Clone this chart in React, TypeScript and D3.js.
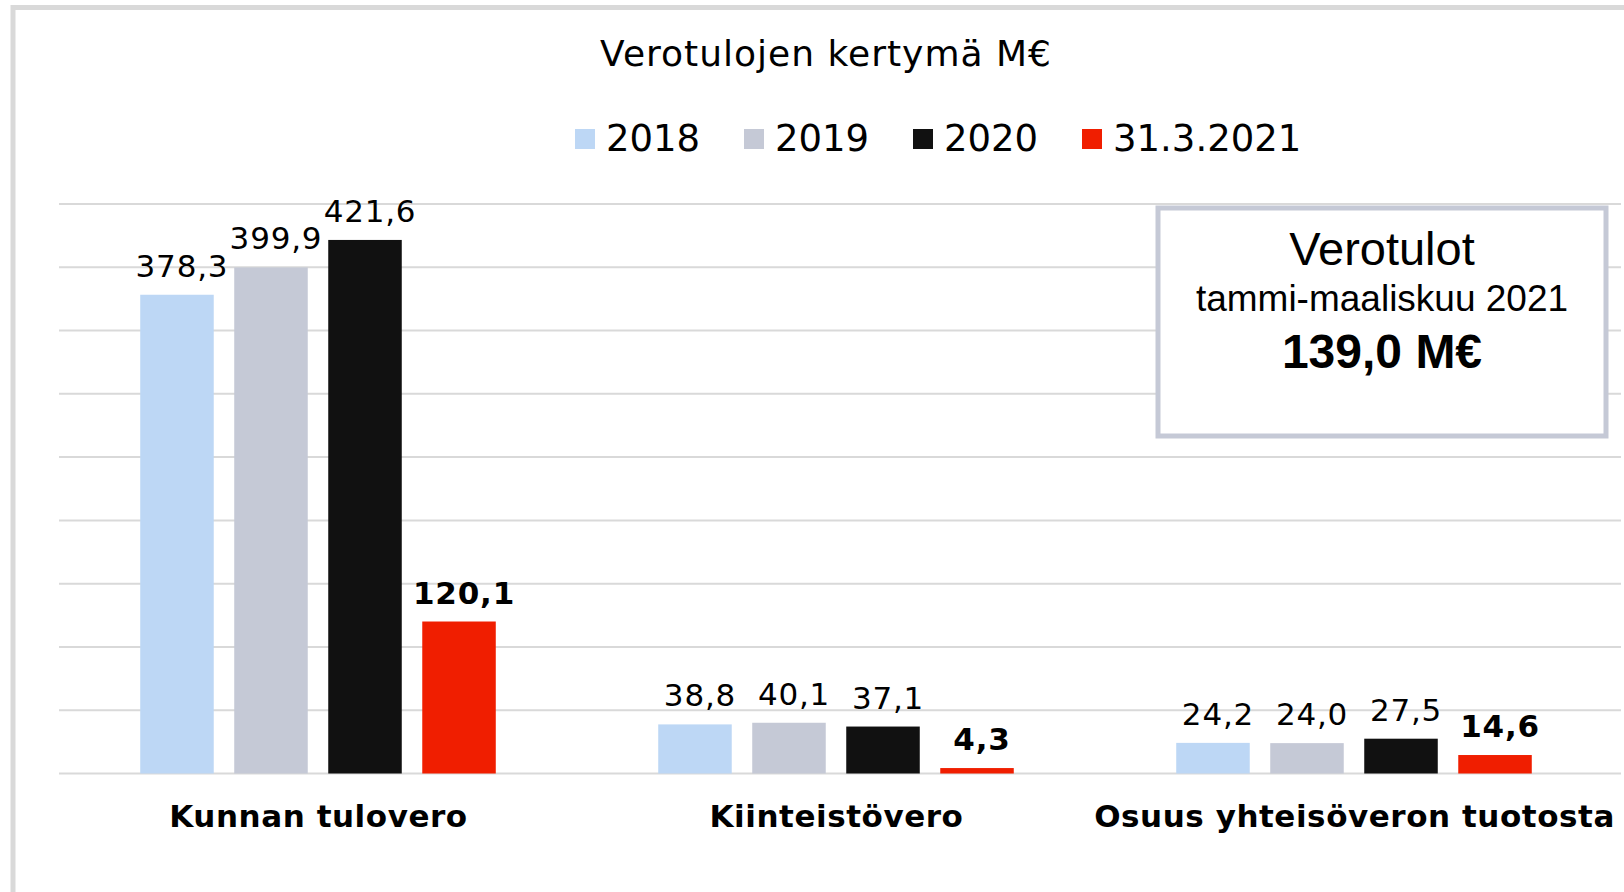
import * as d3 from "d3";
import React from "react";

// datos
const categories = ["Kunnan tulovero", "Kiinteistövero", "Osuus yhteisöveron tuotosta"];
const seriesNames = ["2018", "2019", "2020", "31.3.2021"];
const values2018 = [378.3, 38.8, 24.2];
const values2019 = [399.9, 40.1, 24.0];
const values2020 = [421.6, 37.1, 27.5];
const values2021 = [120.1, 4.3, 14.6];
const yTicks = [0, 50, 100, 150, 200, 250, 300, 350, 400, 450];
const boxLines = ["Verotulot", "tammi-maaliskuu 2021", "139,0 M€"];

const colors = ["#bdd7f5", "#c5c9d6", "#111111", "#f01e00"];
const series = [values2018, values2019, values2020, values2021];

const W = 1624;
const H = 892;
const plot = { left: 59, right: 1613, top: 204, bottom: 773.5 };
const font = "'DejaVu Sans', Verdana, sans-serif";
const arial = "'Liberation Sans', Arial, sans-serif";

const fmt = (v: number) => d3.format(".1f")(v).replace(".", ",");

export default function App() {
  const x0 = d3.scaleBand<string>().domain(categories).range([plot.left, plot.right]);
  const x1 = d3
    .scaleBand<string>()
    .domain(seriesNames)
    .range([0, x0.bandwidth()])
    .paddingInner(0.218)
    .paddingOuter(0.864);
  const y = d3.scaleLinear().domain([0, 450]).range([plot.bottom, plot.top]);

  return (
    <svg
      width={W}
      height={H}
      style={{ position: "absolute", left: 0, top: 0, background: "#fff" }}
    >
      {/* marco exterior */}
      <rect x={13} y={7.5} width={1700} height={1000} fill="#fff" stroke="#d9d9d9" strokeWidth={5} />

      <text
        x={826}
        y={66}
        textAnchor="middle"
        fontFamily={font}
        fontSize={36}
        letterSpacing={1}
        fill="#000"
      >
        Verotulojen kertymä M€
      </text>

      {/* leyenda */}
      {seriesNames.map((s, i) => (
        <g key={s} transform={`translate(${575 + i * 169},0)`}>
          <rect x={0} y={129} width={20} height={20} fill={colors[i]} />
          <text x={31} y={151} fontFamily={font} fontSize={37} fill="#000">
            {s}
          </text>
        </g>
      ))}

      {/* rejilla */}
      {yTicks.map((t) => (
        <line
          key={t}
          x1={plot.left}
          x2={plot.right + 8}
          y1={y(t)}
          y2={y(t)}
          stroke="#d9d9d9"
          strokeWidth={2}
        />
      ))}

      {/* barras */}
      {categories.map((c, ci) => (
        <g key={c} transform={`translate(${x0(c)},0)`}>
          {series.map((vals, si) => {
            const v = vals[ci];
            const bx = x1(seriesNames[si])!;
            const red = si === 3;
            return (
              <g key={si}>
                <rect
                  x={bx}
                  y={y(v)}
                  width={x1.bandwidth()}
                  height={y(0) - y(v)}
                  fill={colors[si]}
                />
                <text
                  x={bx + x1.bandwidth() / 2 + 5}
                  y={y(v) - 18}
                  textAnchor="middle"
                  fontFamily={font}
                  fontSize={31}
                  letterSpacing={0.8}
                  fontWeight={red ? "bold" : "normal"}
                  fill="#000"
                >
                  {fmt(v)}
                </text>
              </g>
            );
          })}
          <text
            x={x0.bandwidth() / 2 + 0.5}
            y={827}
            textAnchor="middle"
            fontFamily={font}
            fontSize={31}
            letterSpacing={0.55}
            fontWeight="bold"
            fill="#000"
          >
            {c}
          </text>
        </g>
      ))}

      {/* recuadro */}
      <rect x={1158} y={208} width={448} height={228} fill="#fff" stroke="#c5c9d6" strokeWidth={5} />
      <text x={1382} y={265} textAnchor="middle" fontFamily={arial} fontSize={47} fill="#000">
        {boxLines[0]}
      </text>
      <text x={1382} y={311} textAnchor="middle" fontFamily={arial} fontSize={37} fill="#000">
        {boxLines[1]}
      </text>
      <text
        x={1382}
        y={368}
        textAnchor="middle"
        fontFamily={arial}
        fontSize={48}
        fontWeight="bold"
        fill="#000"
      >
        {boxLines[2]}
      </text>
    </svg>
  );
}
